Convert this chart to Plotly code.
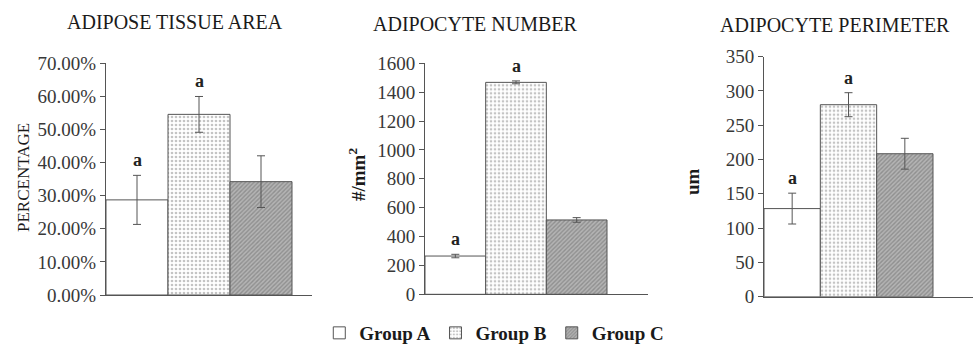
import plotly.graph_objects as go

# ---------------- data ----------------
groups = ["Group A", "Group B", "Group C"]
panel_titles = ["ADIPOSE TISSUE AREA", "ADIPOCYTE NUMBER", "ADIPOCYTE PERIMETER"]
y_titles = ["PERCENTAGE", "#/mm<sup>2</sup>", "um"]

area_mean = [28.7, 54.5, 34.2]
area_err = [7.4, 5.4, 7.8]
number_mean = [265, 1468, 515]
number_err = [12, 10, 16]
perim_mean = [128.5, 280, 208.5]
perim_err = [22.5, 17.5, 22.5]
sig_labels = ["a", "a", ""]

y_max = [70, 1600, 350]
y_dtick = [10, 200, 50]

# ---------------- styles ----------------
W, H = 973, 345
SERIF = "Liberation Serif, Times New Roman, serif"
EDGE = "#555555"
TXT = "#383838"

patterns = [
    dict(shape="", bgcolor="white"),
    dict(shape=".", bgcolor="white", fgcolor="#8a8a8a", size=4, solidity=0.35),
    dict(shape="/", bgcolor="#b4b4b4", fgcolor="#6a6a6a", size=3, solidity=0.45),
]

# pixel layout of each panel
panel_px = [
    dict(x0=106, x1=312, yt=63, yb=295, bars=186),
    dict(x0=425, x1=648, yt=63.3, yb=294.3, bars=182),
    dict(x0=764, x1=973, yt=56.7, yb=296.7, bars=169),
]
title_px = [(175, 22), (475, 23.5), (835, 25)]
ytitle_px = [(23, 178, False), (357, 175, True), (692, 182, True)]

means = [area_mean, number_mean, perim_mean]
errs = [area_err, number_err, perim_err]

fig = go.Figure()
bw = 1.0 / 3
annotations = []
for p in range(3):
    ax = "" if p == 0 else str(p + 1)
    for i, g in enumerate(groups):
        fig.add_trace(go.Bar(
            x=[0], y=[means[p][i]],
            width=bw, offset=-0.5 + i * bw,
            name=g, legendgroup=g, showlegend=(p == 0),
            marker=dict(color="white", line=dict(color=EDGE, width=1), pattern=patterns[i]),
            error_y=dict(type="data", array=[errs[p][i]], visible=True,
                         color=EDGE, thickness=1, width=4),
            xaxis="x" + ax, yaxis="y" + ax,
            hoverinfo="skip",
        ))
        if sig_labels[i]:
            annotations.append(dict(
                x=-0.5 + (i + 0.5) * bw, y=means[p][i] + errs[p][i],
                xref="x" + ax, yref="y" + ax, text="<b>%s</b>" % sig_labels[i],
                showarrow=False, yanchor="middle", yshift=15,
                font=dict(family=SERIF, size=18, color="#222"),
            ))
    px = panel_px[p]
    xr_end = -0.5 + (px["x1"] - px["x0"]) / px["bars"]
    fig.update_layout(**{
        "xaxis" + ax: dict(
            domain=[px["x0"] / W, px["x1"] / W], range=[-0.5, xr_end],
            showticklabels=False, ticks="", showgrid=False, zeroline=False,
            showline=True, linecolor=EDGE, linewidth=1, automargin=False,
            anchor="y" + ax, fixedrange=True,
        ),
        "yaxis" + ax: dict(
            domain=[(H - px["yb"]) / H, (H - px["yt"]) / H],
            range=[0, y_max[p]], dtick=y_dtick[p], tick0=0,
            showgrid=False, zeroline=False, automargin=False,
            showline=True, linecolor=EDGE, linewidth=1,
            ticks="outside", ticklen=5, tickcolor=EDGE,
            tickfont=dict(family=SERIF, size=19, color=TXT),
            ticksuffix="%" if p == 0 else "",
            tickformat=".2f" if p == 0 else "d",
            anchor="x" + ax, fixedrange=True,
        ),
    })
    tx, ty = title_px[p]
    annotations.append(dict(
        x=tx / W, y=1 - ty / H, xref="paper", yref="paper",
        text=panel_titles[p], showarrow=False, xanchor="center", yanchor="middle",
        font=dict(family=SERIF, size=20, color="#1a1a1a"),
    ))
    yx, yy, bold = ytitle_px[p]
    annotations.append(dict(
        x=yx / W, y=1 - yy / H, xref="paper", yref="paper",
        text=("<b>%s</b>" % y_titles[p]) if bold else y_titles[p],
        showarrow=False, xanchor="center", yanchor="middle", textangle=-90,
        font=dict(family=SERIF, size=19 if bold else 17, color="#1a1a1a"),
    ))

fig.update_layout(
    width=W, height=H,
    margin=dict(l=0, r=0, t=0, b=0, autoexpand=False),
    paper_bgcolor="white", plot_bgcolor="white",
    barmode="overlay",
    annotations=annotations,
    showlegend=True,
    legend=dict(
        orientation="h", x=0.508, xanchor="center", y=1 - 333 / H, yanchor="middle",
        font=dict(family=SERIF, size=19, color="#1a1a1a", weight="bold"),
        itemwidth=30, tracegroupgap=0, traceorder="normal",
        bgcolor="rgba(0,0,0,0)",
    ),
)

fig.write_html("out.html")
